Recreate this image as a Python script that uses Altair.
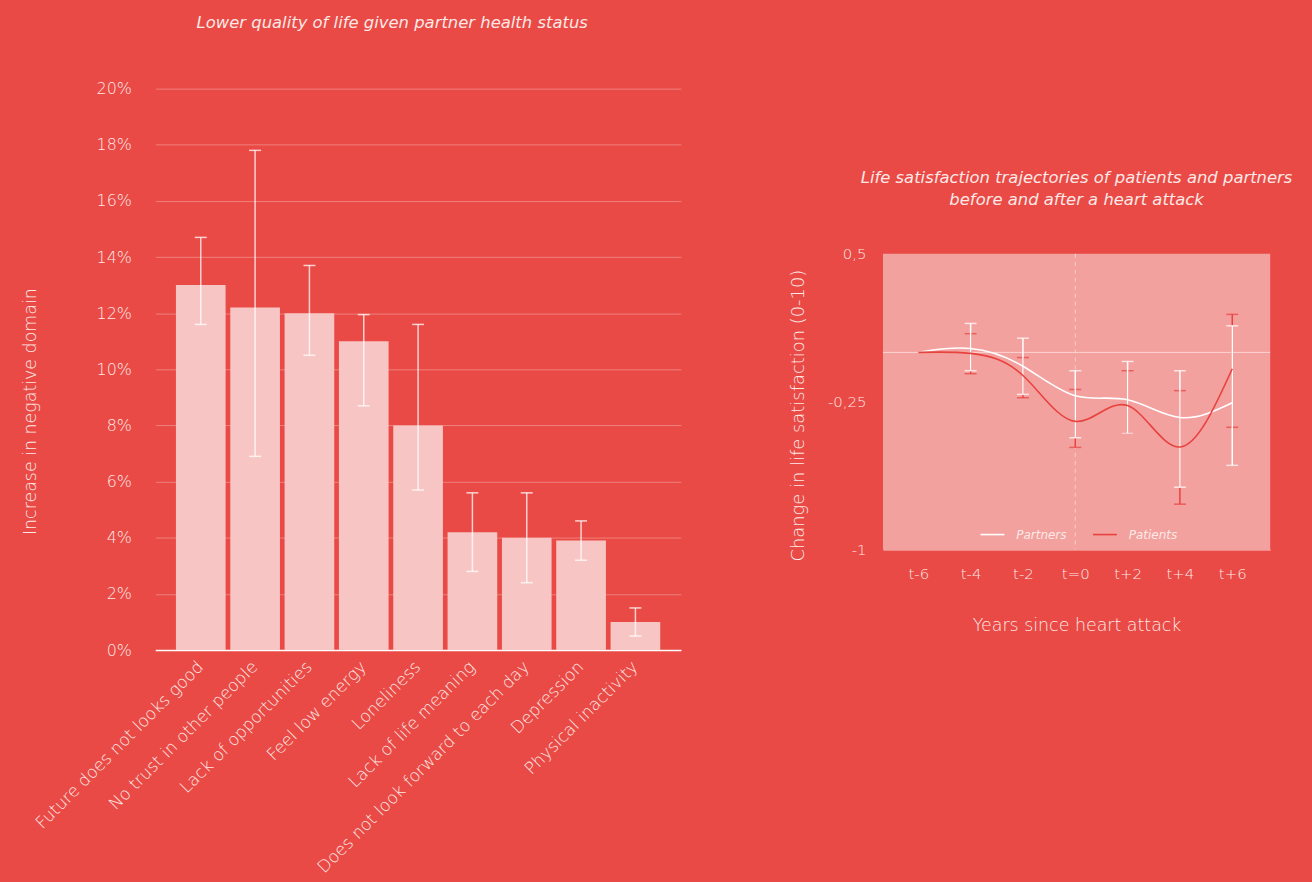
import altair as alt
import pandas as pd

# ---------------- palette ----------------
BG = "#E94A45"
BAR = "#F7C6C4"
PANEL = "#F2A19F"
TEXT = "#FDE9E7"
PATIENT_RED = "#E8423F"
FONT = "DejaVu Sans"

# ---------------- left panel: increase in negative domains ----------------
categories = [
    "Future does not looks good",
    "No trust in other people",
    "Lack of opportunities",
    "Feel low energy",
    "Loneliness",
    "Lack of life meaning",
    "Does not look forward to each day",
    "Depression",
    "Physical inactivity",
]
increase = [13.0, 12.2, 12.0, 11.0, 8.0, 4.2, 4.0, 3.9, 1.0]
increase_low = [11.6, 6.9, 10.5, 8.7, 5.7, 2.8, 2.4, 3.2, 0.5]
increase_high = [14.7, 17.8, 13.7, 11.95, 11.6, 5.6, 5.6, 4.6, 1.5]
pct_ticks = [0, 2, 4, 6, 8, 10, 12, 14, 16, 18, 20]

# ---------------- right panel: life satisfaction trajectories ----------------
year_offsets = [-6, -4, -2, 0, 2, 4, 6]
year_labels = ["t-6", "t-4", "t-2", "t=0", "t+2", "t+4", "t+6"]
partners_mean = [0.0, 0.02, -0.07, -0.22, -0.24, -0.33, -0.255]
partners_low = [None, -0.093, -0.213, -0.433, -0.41, -0.684, -0.573]
partners_high = [None, 0.147, 0.072, -0.093, -0.046, -0.093, 0.135]
patients_mean = [0.0, -0.005, -0.117, -0.35, -0.27, -0.48, -0.083]
patients_low = [None, -0.108, -0.23, -0.482, -0.41, -0.77, -0.38]
patients_high = [None, 0.095, -0.026, -0.188, -0.093, -0.194, 0.193]
series_names = ["Partners", "Patients"]
sat_ticks = [0.5, -0.25, -1]
sat_tick_labels = ["0,5", "-0,25", "-1"]


def label_expr(values, labels):
    expr = "''"
    for v, lab in reversed(list(zip(values, labels))):
        expr = f"datum.value == {v} ? '{lab}' : ({expr})"
    return expr


# ---------- left chart ----------
left_df = pd.DataFrame(
    {"domain": categories, "increase": increase, "low": increase_low, "high": increase_high}
)

x_left = alt.X(
    "domain:N",
    sort=categories,
    title=None,
    scale=alt.Scale(paddingInner=0.086, paddingOuter=0.38),
    axis=alt.Axis(
        labelAngle=315,
        labelAlign="right",
        labelBaseline="middle",
        labelPadding=14,
        labelFontSize=17,
        labelLimit=500,
        domainColor="#FFFFFF",
        domainWidth=1.5,
        ticks=False,
        grid=False,
    ),
)
y_axis_left = alt.Axis(
    values=pct_ticks,
    labelExpr="datum.value + '%'",
    domain=False,
    ticks=False,
    grid=True,
    gridColor="#FFFFFF",
    gridOpacity=0.3,
    gridWidth=1,
    labelPadding=24,
    labelFontSize=16,
    labelFlush=False,
    titleFontSize=17.5,
    titleAngle=270,
    titleAlign="center",
    titleBaseline="middle",
    titleX=-125,
    titleY=324,
)
y_scale_left = alt.Scale(domain=[0, 20], nice=False)
Y_LEFT_TITLE = "Increase in negative domain"

bars = alt.Chart(left_df).mark_bar(color=BAR).encode(
    x=x_left,
    y=alt.Y("increase:Q", title=Y_LEFT_TITLE, scale=y_scale_left, axis=y_axis_left),
)
err_rule = alt.Chart(left_df).mark_rule(color="#FFFFFF", opacity=0.75, strokeWidth=1.5).encode(
    x=x_left,
    y=alt.Y("low:Q", title=Y_LEFT_TITLE, scale=y_scale_left, axis=y_axis_left),
    y2="high:Q",
)
err_low = alt.Chart(left_df).mark_tick(color="#FFFFFF", opacity=0.75, size=12, thickness=1.5).encode(
    x=x_left,
    y=alt.Y("low:Q", title=Y_LEFT_TITLE, scale=y_scale_left, axis=y_axis_left),
)
err_high = alt.Chart(left_df).mark_tick(color="#FFFFFF", opacity=0.75, size=12, thickness=1.5).encode(
    x=x_left,
    y=alt.Y("high:Q", title=Y_LEFT_TITLE, scale=y_scale_left, axis=y_axis_left),
)

left = alt.layer(bars, err_rule, err_low, err_high).properties(
    width=528,
    height=564,
    title=alt.TitleParams(
        "Lower quality of life given partner health status",
        anchor="middle",
        frame="group",
        dx=-26,
        offset=49,
    ),
)

# ---------- right chart ----------
rows = []
for name, mean, lo, hi in [
    ("Partners", partners_mean, partners_low, partners_high),
    ("Patients", patients_mean, patients_low, patients_high),
]:
    for yr, m, l, h in zip(year_offsets, mean, lo, hi):
        rows.append({"series": name, "year": yr, "mean": m, "low": l, "high": h})
traj = pd.DataFrame(rows)
traj_err = traj.dropna(subset=["low", "high"])

x_scale_r = alt.Scale(domain=[-7.35, 7.45], nice=False, zero=False)
x_axis_r = alt.Axis(
    values=year_offsets,
    labelExpr=label_expr(year_offsets, year_labels),
    grid=False,
    ticks=False,
    domain=True,
    domainColor="#F8CBC9",
    domainWidth=1,
    labelPadding=17,
    labelFontSize=15,
    labelFlush=False,
    titleFontSize=17.5,
    titlePadding=35,
)
y_scale_r = alt.Scale(domain=[-1, 0.5], nice=False, zero=False)
y_axis_r = alt.Axis(
    values=sat_ticks,
    labelExpr=label_expr(sat_ticks, sat_tick_labels),
    grid=False,
    ticks=False,
    domain=False,
    labelPadding=17,
    labelFontSize=15,
    labelFlush=False,
    titleFontSize=18,
    titleAngle=270,
    titleAlign="center",
    titleBaseline="middle",
    titleX=-85,
    titleY=162,
)
X_TITLE = "Years since heart attack"
Y_TITLE = "Change in life satisfaction (0-10)"


def xr(field):
    return alt.X(field, title=X_TITLE, scale=x_scale_r, axis=x_axis_r)


def yr(field):
    return alt.Y(field, title=Y_TITLE, scale=y_scale_r, axis=y_axis_r)


zero_line = alt.Chart(pd.DataFrame({"v": [0]})).mark_rule(
    color="#FAD3D1", strokeWidth=1
).encode(y=alt.Y(datum=0, title=Y_TITLE, scale=y_scale_r, axis=y_axis_r))

event_line = alt.Chart(pd.DataFrame({"v": [0]})).mark_rule(
    color="#F9CFCD", strokeWidth=1, strokeDash=[4, 4]
).encode(x=alt.X(datum=0, title=X_TITLE, scale=x_scale_r, axis=x_axis_r))


def error_layers(series, color):
    d = traj_err[traj_err["series"] == series]
    rule = alt.Chart(d).mark_rule(color=color, strokeWidth=1.5).encode(
        x=xr("year:Q"), y=yr("low:Q"), y2="high:Q"
    )
    lo = alt.Chart(d).mark_tick(color=color, size=12, thickness=1.5, orient="horizontal").encode(
        x=xr("year:Q"), y=yr("low:Q")
    )
    hi = alt.Chart(d).mark_tick(color=color, size=12, thickness=1.5, orient="horizontal").encode(
        x=xr("year:Q"), y=yr("high:Q")
    )
    return [rule, lo, hi]


# The shared colour legend is placed in the root group, whose origin is the
# top-left corner of the left plot area.
lines = alt.Chart(traj).mark_line(interpolate="natural", strokeWidth=1.6).encode(
    x=xr("year:Q"),
    y=yr("mean:Q"),
    color=alt.Color(
        "series:N",
        scale=alt.Scale(domain=series_names, range=["#FFFFFF", PATIENT_RED]),
        legend=alt.Legend(
            title=None,
            orient="none",
            direction="horizontal",
            legendX=828,
            legendY=435,
            symbolType="stroke",
            symbolSize=576,
            symbolStrokeWidth=1.6,
            labelFontSize=12,
            labelFontStyle="italic",
            labelOffset=11,
            columnPadding=22,
            padding=0,
        ),
    ),
)

right_plot = alt.layer(
    zero_line,
    event_line,
    *error_layers("Patients", PATIENT_RED),
    *error_layers("Partners", "#FFFFFF"),
    lines,
).properties(
    width=389,
    height=297,
    view=alt.ViewBackground(fill=PANEL, stroke=None),
    title=alt.TitleParams(
        ["Life satisfaction trajectories of patients and partners", "before and after a heart attack"],
        anchor="middle",
        frame="group",
        offset=39,
        lineHeight=22,
    ),
)

spacer = alt.Chart(pd.DataFrame({"v": [0]})).mark_point(opacity=0).encode(
    x=alt.value(0), y=alt.value(0)
).properties(width=1, height=81)

right = alt.vconcat(spacer, right_plot, spacing=0)

chart = (
    alt.hconcat(left, right, spacing=109)
    .properties(background=BG, padding={"left": 22, "top": 13, "right": 19, "bottom": 5})
    .configure_view(stroke=None)
    .configure_axis(
        labelFont=FONT,
        titleFont=FONT,
        labelColor=TEXT,
        titleColor=TEXT,
        labelFontWeight=200,
        titleFontWeight=200,
    )
    .configure_legend(labelFont=FONT, labelColor=TEXT, labelFontWeight=200)
    .configure_title(
        font=FONT,
        fontSize=16.5,
        fontStyle="italic",
        fontWeight=200,
        color=TEXT,
    )
)

chart.save("out.html", embed_options={"renderer": "svg", "actions": False})
